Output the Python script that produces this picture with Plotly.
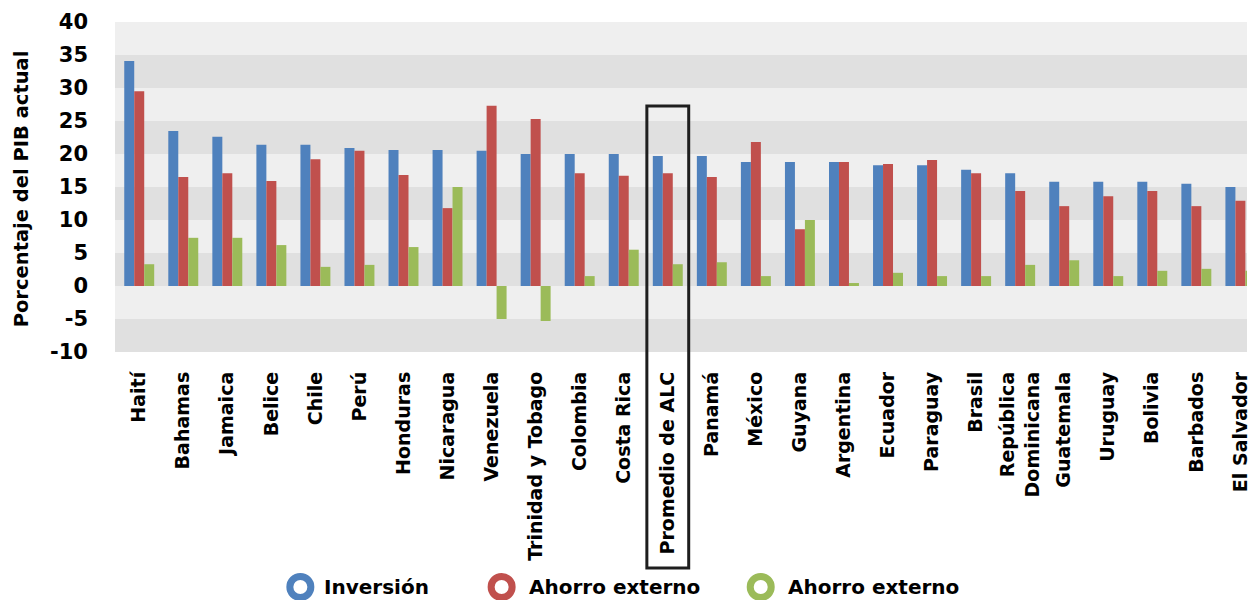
import plotly.graph_objects as go

# Data: investment and external savings as % of current GDP
paises = [
    "Haití", "Bahamas", "Jamaica", "Belice", "Chile", "Perú", "Honduras",
    "Nicaragua", "Venezuela", "Trinidad y Tobago", "Colombia", "Costa Rica",
    "Promedio de ALC", "Panamá", "México", "Guyana", "Argentina", "Ecuador",
    "Paraguay", "Brasil", "República<br>Dominicana", "Guatemala", "Uruguay",
    "Bolivia", "Barbados", "El Salvador",
]
inversion = [34.1, 23.5, 22.6, 21.4, 21.4, 20.9, 20.6, 20.6, 20.5, 20.0, 20.0,
             20.0, 19.7, 19.7, 18.8, 18.8, 18.8, 18.3, 18.3, 17.6, 17.1, 15.8,
             15.8, 15.8, 15.5, 15.0]
ahorro_externo_a = [29.5, 16.5, 17.1, 15.9, 19.2, 20.5, 16.8, 11.8, 27.3, 25.3,
                    17.1, 16.7, 17.1, 16.5, 21.8, 8.6, 18.8, 18.5, 19.1, 17.1,
                    14.4, 12.1, 13.6, 14.4, 12.1, 12.9]
ahorro_externo_b = [3.3, 7.3, 7.3, 6.2, 2.9, 3.2, 5.9, 15.0, -5.0, -5.3, 1.5,
                    5.5, 3.3, 3.6, 1.5, 10.0, 0.45, 2.0, 1.5, 1.5, 3.2, 3.9,
                    1.5, 2.3, 2.6, 2.3]

series = [
    ("Inversión", inversion, "#4F81BD"),
    ("Ahorro externo", ahorro_externo_a, "#C0504D"),
    ("Ahorro externo", ahorro_externo_b, "#9BBB59"),
]
y_ticks = list(range(-10, 45, 5))
y_ticktext = [str(v) for v in y_ticks]
destacado = "Promedio de ALC"

FONT = "DejaVu Sans"
W, H = 1251, 600
M_L, M_R, M_T, M_B = 115, 0, 22, 248
PLOT_W = W - M_L - M_R
PLOT_H = H - M_T - M_B


def px_x(px):
    return (px - M_L) / PLOT_W


def px_y(py):
    return (H - M_B - py) / PLOT_H


fig = go.Figure()
for nombre, valores, color in series:
    fig.add_trace(go.Bar(x=paises, y=valores, name=nombre,
                         marker=dict(color=color, line=dict(width=0)),
                         showlegend=False))

# Alternating horizontal bands behind the bars
shapes = []
for i, lo in enumerate(y_ticks[:-1]):
    shapes.append(dict(type="rect", xref="paper", yref="y", x0=0, x1=1,
                       y0=lo, y1=lo + 5, layer="below", line=dict(width=0),
                       fillcolor="#E0E0E0" if i % 2 == 0 else "#EFEFEF"))

# Frame around the regional average
k = paises.index(destacado)
shapes.append(dict(type="rect", xref="x", yref="paper", x0=k - 0.475,
                   x1=k + 0.475, y0=px_y(568), y1=px_y(106),
                   line=dict(color="#1E1E1E", width=3), fillcolor="rgba(0,0,0,0)"))

# Legend: ring markers with labels
annotations = []
leyenda = [(301, 323), (503, 528), (763, 788)]
ly = px_y(587)
for (cx, tx), (nombre, _, color) in zip(leyenda, series):
    shapes.append(dict(type="circle", xref="paper", yref="paper",
                       xsizemode="pixel", ysizemode="pixel",
                       xanchor=px_x(cx), yanchor=ly, x0=-10.5, x1=10.5,
                       y0=-10.5, y1=10.5,
                       line=dict(color=color, width=7), fillcolor="white"))
    annotations.append(dict(text=nombre, xref="paper", yref="paper",
                            x=px_x(tx), y=ly, xanchor="left", yanchor="middle",
                            showarrow=False,
                            font=dict(family=FONT, size=20, color="black",
                                      weight="bold")))

annotations.append(dict(text="Porcentaje del PIB actual", xref="paper",
                        yref="paper", x=px_x(21), y=px_y(189), textangle=-90,
                        xanchor="center", yanchor="middle", showarrow=False,
                        font=dict(family=FONT, size=19.5, color="black",
                                  weight="bold")))

fig.update_layout(
    width=W, height=H,
    margin=dict(l=M_L, r=M_R, t=M_T, b=M_B, pad=0),
    paper_bgcolor="white", plot_bgcolor="#EFEFEF",
    barmode="group", bargap=0.32, bargroupgap=0,
    shapes=shapes, annotations=annotations,
    xaxis=dict(range=[-0.55, 25.15], tickangle=-90, showgrid=False,
               zeroline=False, showline=False, ticks="",
               ticklabelstandoff=15,
               tickfont=dict(family=FONT, size=19, color="black",
                             weight="bold")),
    yaxis=dict(range=[-10, 40], tickvals=y_ticks, ticktext=y_ticktext,
               showgrid=False, zeroline=False, showline=False, ticks="",
               ticklabelstandoff=26,
               tickfont=dict(family=FONT, size=21, color="black",
                             weight="bold")),
)

fig.write_html("out.html")
